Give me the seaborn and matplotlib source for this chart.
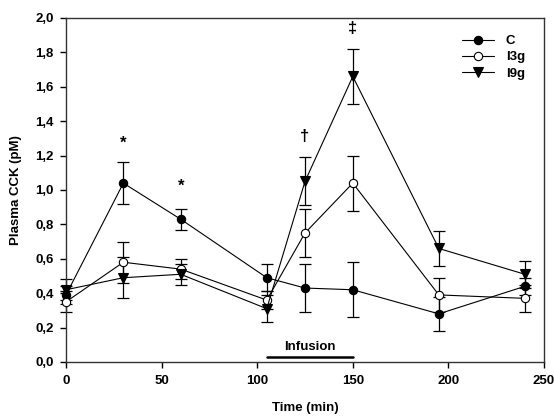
import matplotlib
matplotlib.use("Agg")
import matplotlib.pyplot as plt
import numpy as np
import pandas as pd
import seaborn as sns

# sampling times (min)
time = [0, 30, 60, 105, 125, 150, 195, 240]

# plasma CCK (pM), mean and error per group
c_mean = [0.39, 1.04, 0.83, 0.49, 0.43, 0.42, 0.28, 0.44]
c_err = [0.05, 0.12, 0.06, 0.08, 0.14, 0.16, 0.10, 0.05]
i3g_mean = [0.35, 0.58, 0.54, 0.36, 0.75, 1.04, 0.39, 0.37]
i3g_err = [0.06, 0.12, 0.06, 0.05, 0.14, 0.16, 0.10, 0.08]
i9g_mean = [0.42, 0.49, 0.51, 0.31, 1.05, 1.66, 0.66, 0.51]
i9g_err = [0.06, 0.12, 0.06, 0.08, 0.14, 0.16, 0.10, 0.08]

# significance marks
sig_x = [30, 60, 125, 150]
sig_y = [1.27, 1.02, 1.31, 1.94]
sig_text = ["*", "*", "\u2020", "\u2021"]

infusion_span = [105, 150]

sns.set_style("ticks")
plt.rcParams["font.family"] = ["Liberation Sans", "DejaVu Sans"]
plt.rcParams["font.weight"] = "bold"
plt.rcParams["text.color"] = "black"

fig = plt.figure(figsize=(5.54, 4.16), dpi=100)
ax = fig.add_axes([66 / 554, 1 - 362 / 416, 478 / 554, 344 / 416])

groups = [
    ("C", c_mean, c_err, "o", "black", 6),
    ("I3g", i3g_mean, i3g_err, "o", "white", 6),
    ("I9g", i9g_mean, i9g_err, "v", "black", 6.5),
]

for name, mean, err, marker, face, ms in groups:
    df = pd.DataFrame({"time": time, "cck": mean})
    ax.errorbar(time, mean, yerr=err, fmt="none", ecolor="black",
                elinewidth=0.9, capsize=4, capthick=0.9, clip_on=False, zorder=2)
    sns.lineplot(data=df, x="time", y="cck", ax=ax, color="black",
                 linewidth=0.8, marker=marker, markersize=ms,
                 markerfacecolor=face, markeredgecolor="black",
                 markeredgewidth=0.8, label=name, clip_on=False, zorder=3)

for x, y, t in zip(sig_x, sig_y, sig_text):
    ax.text(x, y, t, ha="center", va="center", fontsize=12, fontweight="bold",
            color="black")

ax.plot(infusion_span, [0.03, 0.03], color="black", linewidth=1.8)
ax.text(np.mean(infusion_span), 0.085, "Infusion", ha="center", va="center",
        fontsize=9.5, fontweight="bold", color="black")

ax.set_xlim(0, 250)
ax.set_ylim(0, 2.0)
ax.set_xticks([0, 50, 100, 150, 200, 250])
ax.set_yticks(np.arange(0, 2.01, 0.2))
ax.set_yticklabels([f"{v:.1f}".replace(".", ",") for v in np.arange(0, 2.01, 0.2)])
ax.tick_params(direction="out", length=4, width=1, labelsize=9.5,
               colors="black", pad=5)
for lab in ax.get_xticklabels() + ax.get_yticklabels():
    lab.set_fontweight("bold")

for side in ["top", "right", "left", "bottom"]:
    ax.spines[side].set_visible(True)
    ax.spines[side].set_color("#333333")
    ax.spines[side].set_linewidth(1)

ax.set_xlabel("Time (min)", fontsize=9.5, fontweight="bold", labelpad=11,
              color="black")
ax.set_ylabel("Plasma CCK (pM)", fontsize=9.5, fontweight="bold", labelpad=9,
              color="black")

leg = ax.legend(loc="upper right", frameon=False, fontsize=9.5, handlelength=2.4,
                handletextpad=0.9, labelspacing=0.3,
                bbox_to_anchor=(0.985, 0.985))
for t in leg.get_texts():
    t.set_fontweight("bold")
    t.set_color("black")

fig.savefig("out.png", dpi=100)
